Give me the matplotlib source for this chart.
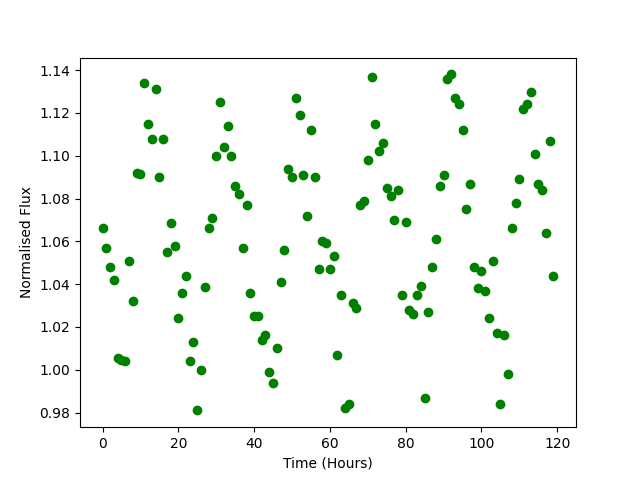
import numpy as np
import matplotlib
matplotlib.use('Agg')
import matplotlib.pyplot as plt

hours = np.arange(0, 120)
flux = [1.066, 1.057, 1.048, 1.042, 1.0055, 1.0045, 1.004, 1.051, 1.032, 1.092,
        1.0915, 1.134, 1.115, 1.108, 1.131, 1.090, 1.108, 1.055, 1.0685, 1.058,
        1.024, 1.036, 1.044, 1.004, 1.013, 0.981, 1.000, 1.0385, 1.066, 1.071,
        1.100, 1.125, 1.104, 1.114, 1.100, 1.086, 1.082, 1.057, 1.077, 1.036,
        1.025, 1.025, 1.014, 1.016, 0.999, 0.994, 1.010, 1.041, 1.056, 1.094,
        1.090, 1.127, 1.119, 1.091, 1.072, 1.112, 1.090, 1.047, 1.060, 1.059,
        1.047, 1.053, 1.007, 1.035, 0.982, 0.984, 1.031, 1.029, 1.077, 1.079,
        1.098, 1.137, 1.115, 1.102, 1.106, 1.085, 1.081, 1.070, 1.084, 1.035,
        1.069, 1.028, 1.026, 1.035, 1.039, 0.987, 1.027, 1.048, 1.061, 1.086,
        1.091, 1.136, 1.138, 1.127, 1.124, 1.112, 1.075, 1.087, 1.048, 1.038,
        1.046, 1.037, 1.024, 1.051, 1.017, 0.984, 1.016, 0.998, 1.066, 1.078,
        1.089, 1.122, 1.124, 1.130, 1.101, 1.087, 1.084, 1.064, 1.107, 1.044]

plt.figure(figsize=(6.4, 4.8), dpi=100)
plt.plot(hours, flux, 'go')
plt.xlabel('Time (Hours)')
plt.ylabel('Normalised Flux')
plt.savefig('out.png')
